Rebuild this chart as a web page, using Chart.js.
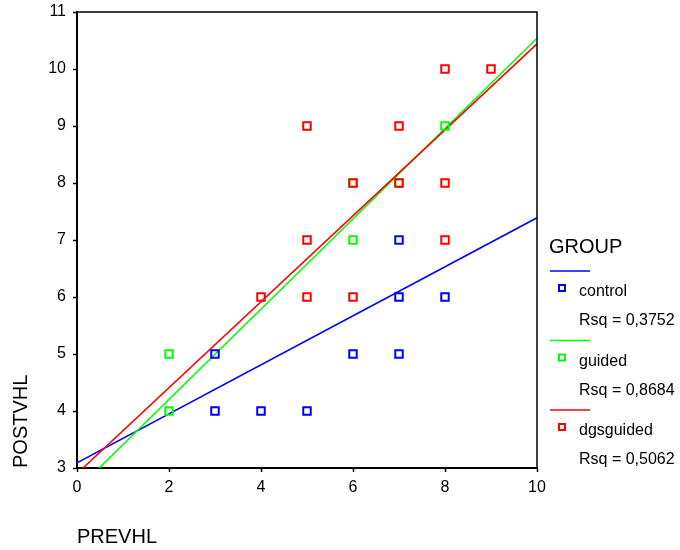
<!DOCTYPE html>
<html>
<head>
<meta charset="utf-8">
<script src="https://cdn.jsdelivr.net/npm/chart.js@4"></script>
<style>
  body { margin: 0; background: #fff; }
  canvas { display: block; }
</style>
</head>
<body>
<canvas id="chart" width="680" height="550"></canvas>
<script>
const groups = ['control', 'guided', 'dgsguided'];
const rsq = ['0,3752', '0,8684', '0,5062'];
const colors = ['#0000ff', '#00ff00', '#ff0000'];

const controlX = [3, 3, 4, 5, 6, 7, 7, 7, 8];
const controlY = [4, 5, 4, 4, 5, 5, 6, 7, 6];
const guidedX = [2, 2, 6, 6, 7, 8];
const guidedY = [4, 5, 7, 8, 8, 9];
const dgsX = [4, 5, 5, 5, 6, 6, 7, 7, 8, 8, 8, 9];
const dgsY = [6, 6, 7, 9, 6, 8, 8, 9, 7, 8, 10, 10];

// fit line ends
const controlFitX = [0, 10];
const controlFitY = [3.09, 7.39];
const guidedFitX = [0.48, 10];
const guidedFitY = [3, 10.54];
const dgsFitX = [0.13, 10];
const dgsFitY = [3, 10.44];

const xTicks = [0, 2, 4, 6, 8, 10];
const yTicks = [3, 4, 5, 6, 7, 8, 9, 10, 11];

const FONT = '"Liberation Sans", Arial, sans-serif';

const pts = (xs, ys) => xs.map((x, i) => ({ x: x, y: ys[i] }));

function pointSet(label, xs, ys, color, order) {
    return {
        label: label, data: pts(xs, ys), order: order,
        pointStyle: 'rect', pointRadius: 5.3, pointHoverRadius: 5.3,
        borderColor: color, backgroundColor: 'rgba(0,0,0,0)', borderWidth: 2,
        showLine: false
    };
}
function fitSet(xs, ys, color, order) {
    return {
        type: 'line', data: pts(xs, ys), order: order,
        borderColor: color, borderWidth: 1.6, pointRadius: 0, fill: false, tension: 0
    };
}

// legend + frame + axis titles
const extras = {
    id: 'extras',
    afterDraw(chart) {
        const ctx = chart.ctx;
        const a = chart.chartArea;
        ctx.save();
        ctx.strokeStyle = '#000';
        ctx.lineWidth = 1.5;
        ctx.beginPath();
        ctx.moveTo(a.left, a.top); ctx.lineTo(a.right, a.top); ctx.lineTo(a.right, a.bottom);
        ctx.stroke();

        ctx.fillStyle = '#000';
        ctx.font = '20px ' + FONT;
        ctx.textBaseline = 'alphabetic';
        ctx.textAlign = 'left';
        ctx.fillText('PREVHL', 77, 543);
        ctx.save();
        ctx.translate(27, 468);
        ctx.rotate(-Math.PI / 2);
        ctx.fillText('POSTVHL', 0, 0);
        ctx.restore();

        ctx.font = '20px ' + FONT;
        ctx.fillText('GROUP', 549, 253);
        groups.forEach((g, i) => {
            const y0 = 271 + i * 69.5;
            ctx.strokeStyle = colors[i];
            ctx.lineWidth = 1.6;
            ctx.beginPath();
            ctx.moveTo(550, y0); ctx.lineTo(590, y0);
            ctx.stroke();
            ctx.lineWidth = 2;
            ctx.strokeRect(559, y0 + 14, 6, 6);
            ctx.fillStyle = '#000';
            ctx.font = '16px ' + FONT;
            ctx.fillText(g, 579, y0 + 25);
            ctx.fillText('Rsq = ' + rsq[i], 579, y0 + 54);
        });
        ctx.restore();
    }
};

const noPad = s => { s.paddingTop = 0; s.paddingBottom = 0; s.paddingLeft = 0; s.paddingRight = 0; };

new Chart(document.getElementById('chart'), {
    type: 'scatter',
    data: {
        datasets: [
            pointSet(groups[2], dgsX, dgsY, colors[2], 1),
            pointSet(groups[1], guidedX, guidedY, colors[1], 2),
            pointSet(groups[0], controlX, controlY, colors[0], 3),
            fitSet(dgsFitX, dgsFitY, colors[2], 4),
            fitSet(guidedFitX, guidedFitY, colors[1], 5),
            fitSet(controlFitX, controlFitY, colors[0], 6)
        ]
    },
    options: {
        responsive: false,
        animation: false,
        layout: { padding: { top: 12, right: 143, left: 0, bottom: 0 } },
        plugins: { legend: { display: false }, tooltip: { enabled: false } },
        scales: {
            x: {
                type: 'linear', min: 0, max: 10,
                afterBuildTicks: s => { s.ticks = xTicks.map(v => ({ value: v })); },
                afterFit: s => { s.height = 82; noPad(s); },
                ticks: { color: '#000', font: { size: 16, family: FONT }, padding: 6, maxRotation: 0 },
                grid: { drawOnChartArea: false, tickLength: 4, color: '#000', tickWidth: 1.5 },
                border: { color: '#000', width: 2 }
            },
            y: {
                type: 'linear', min: 3, max: 11,
                afterBuildTicks: s => { s.ticks = yTicks.map(v => ({ value: v })); },
                afterFit: s => { s.width = 77; noPad(s); },
                ticks: { color: '#000', font: { size: 16, family: FONT }, padding: 7 },
                grid: { drawOnChartArea: false, tickLength: 4, color: '#000', tickWidth: 1.5 },
                border: { color: '#000', width: 2 }
            }
        }
    },
    plugins: [extras]
});
</script>
</body>
</html>
